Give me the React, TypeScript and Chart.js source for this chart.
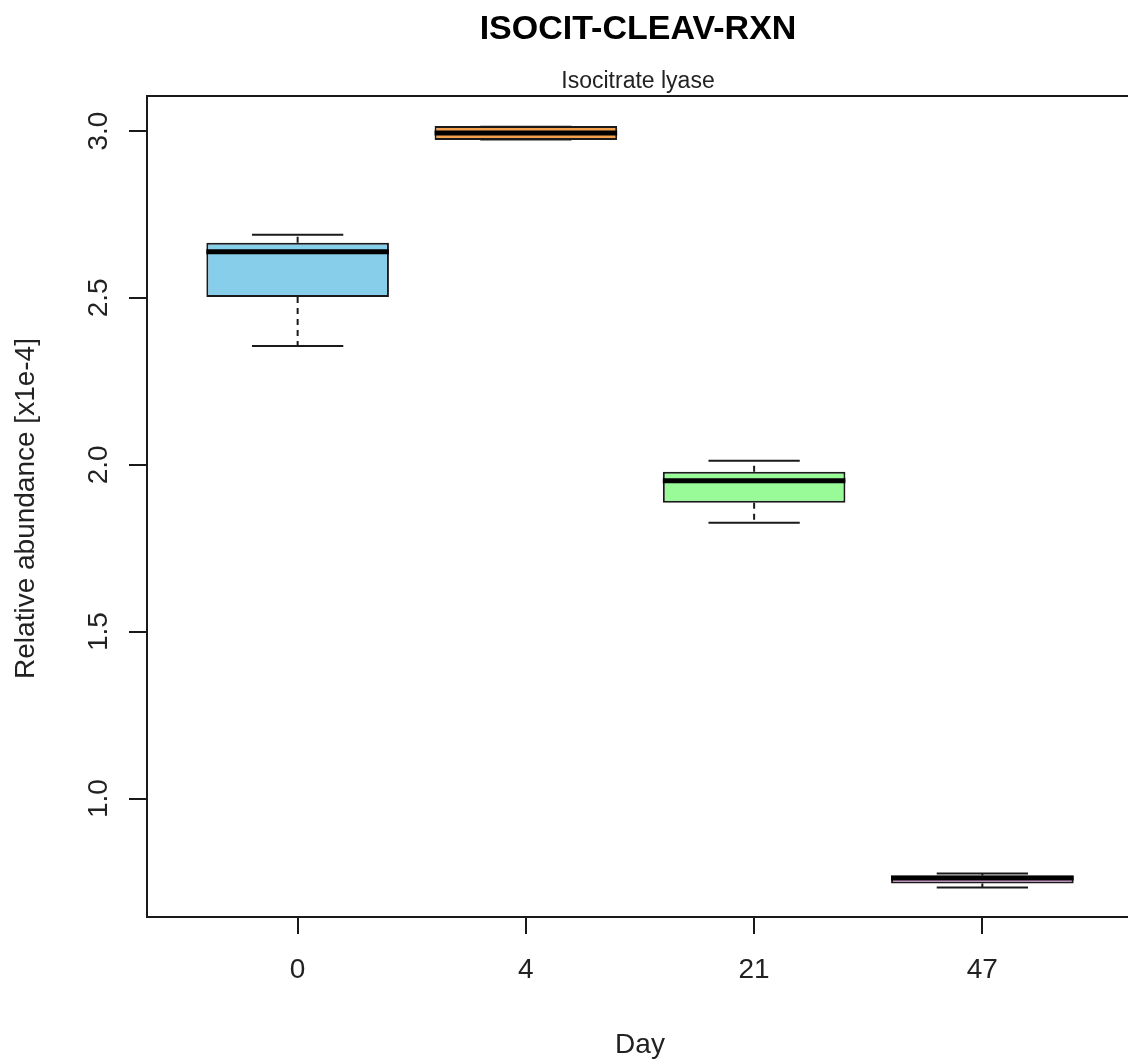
import React, { useEffect, useRef } from "react";
import { Chart, registerables } from "chart.js";

Chart.register(...registerables);

const categories = ["0", "4", "21", "47"];
const whiskerLow = [2.356, 2.975, 1.826, 0.7335];
const q1 = [2.503, 2.973, 1.886, 0.7455];
const median = [2.638, 2.994, 1.952, 0.762];
const q3 = [2.665, 3.015, 1.979, 0.7695];
const whiskerHigh = [2.689, 3.013, 2.012, 0.7754];
const boxColors = ["#87CEEB", "#F4A04C", "#98FB98", "#DDA0DD"];
const yTicks = [1.0, 1.5, 2.0, 2.5, 3.0];
const yTickLabels = ["1.0", "1.5", "2.0", "2.5", "3.0"];

const titleText = "ISOCIT-CLEAV-RXN";
const subtitleText = "Isocitrate lyase";
const xTitle = "Day";
const yTitle = "Relative abundance [x1e-4]";

const FONT = '"Liberation Sans", Arial, sans-serif';
const INK = "#1a1a1a";

const boxPlugin = {
  id: "boxExtras",
  afterDatasetsDraw(chart: any) {
    const ctx = chart.ctx;
    const xs = chart.scales.x;
    const ys = chart.scales.y;
    const meta = chart.getDatasetMeta(0);
    ctx.save();
    categories.forEach((_, i) => {
      const bar = meta.data[i];
      const cx = xs.getPixelForValue(i + 1);
      const halfW = bar.width / 2;
      const yLo = ys.getPixelForValue(whiskerLow[i]);
      const yHi = ys.getPixelForValue(whiskerHigh[i]);
      const yQ1 = ys.getPixelForValue(q1[i]);
      const yQ3 = ys.getPixelForValue(q3[i]);
      const yMed = ys.getPixelForValue(median[i]);
      ctx.strokeStyle = INK;
      ctx.lineWidth = 2;
      // dashed whiskers
      ctx.setLineDash([6, 5]);
      ctx.beginPath();
      if (yLo - yQ1 > 1) {
        ctx.moveTo(cx, yQ1);
        ctx.lineTo(cx, yLo);
      }
      if (yQ3 - yHi > 1) {
        ctx.moveTo(cx, yQ3);
        ctx.lineTo(cx, yHi);
      }
      ctx.stroke();
      ctx.setLineDash([]);
      // staples
      ctx.beginPath();
      ctx.moveTo(cx - halfW / 2, yLo);
      ctx.lineTo(cx + halfW / 2, yLo);
      ctx.moveTo(cx - halfW / 2, yHi);
      ctx.lineTo(cx + halfW / 2, yHi);
      ctx.stroke();
      // median
      ctx.strokeStyle = "#000";
      ctx.lineWidth = 5;
      ctx.beginPath();
      ctx.moveTo(cx - halfW, yMed);
      ctx.lineTo(cx + halfW, yMed);
      ctx.stroke();
    });
    ctx.restore();
  },
  afterDraw(chart: any) {
    const ctx = chart.ctx;
    const a = chart.chartArea;
    const xs = chart.scales.x;
    const ys = chart.scales.y;
    ctx.save();
    // frame
    ctx.strokeStyle = INK;
    ctx.lineWidth = 2;
    ctx.strokeRect(a.left, a.top, a.right - a.left, a.bottom - a.top);
    ctx.fillStyle = "#000";
    const cx = (a.left + a.right) / 2;
    // title
    ctx.textAlign = "center";
    ctx.textBaseline = "alphabetic";
    ctx.font = `bold 34px ${FONT}`;
    ctx.fillText(titleText, cx - 2, 39);
    ctx.fillStyle = "#222";
    ctx.font = `23px ${FONT}`;
    ctx.fillText(subtitleText, cx - 2, 88);
    // x tick labels
    ctx.font = `28px ${FONT}`;
    categories.forEach((c, i) => {
      ctx.fillText(c, xs.getPixelForValue(i + 1), 978);
    });
    // x title
    ctx.fillText(xTitle, cx, 1053);
    // y tick labels (rotated)
    yTicks.forEach((v, i) => {
      const y = ys.getPixelForValue(v);
      ctx.save();
      ctx.translate(107, y);
      ctx.rotate(-Math.PI / 2);
      ctx.fillText(yTickLabels[i], 0, 0);
      ctx.restore();
    });
    // y title
    ctx.save();
    ctx.translate(34, (a.top + a.bottom) / 2 + 2);
    ctx.rotate(-Math.PI / 2);
    ctx.fillText(yTitle, 0, 0);
    ctx.restore();
    ctx.restore();
  },
};

export default function App() {
  const ref = useRef<HTMLCanvasElement>(null);
  useEffect(() => {
    const canvas = ref.current;
    if (!canvas) return;
    const chart = new Chart(canvas, {
      type: "bar",
      data: {
        datasets: [
          {
            data: categories.map((_, i) => ({ x: i + 1, y: [q1[i], q3[i]] })) as any,
            backgroundColor: boxColors,
            borderColor: INK,
            borderWidth: 2,
            borderSkipped: false,
            categoryPercentage: 1,
            barPercentage: 0.8,
          } as any,
        ],
      },
      options: {
        animation: false,
        responsive: false,
        devicePixelRatio: 1,
        events: [],
        layout: { padding: { top: 96, right: 7, left: 0, bottom: 0 } },
        plugins: {
          legend: { display: false },
          tooltip: { enabled: false },
          title: { display: false },
        },
        scales: {
          x: {
            type: "linear",
            min: 0.34,
            max: 4.66,
            offset: false,
            afterBuildTicks: (axis: any) => {
              axis.ticks = categories.map((_, i) => ({ value: i + 1 }));
            },
            afterFit: (axis: any) => {
              axis.height = 147;
            },
            ticks: { display: false },
            grid: {
              display: true,
              offset: false,
              drawOnChartArea: false,
              drawTicks: true,
              tickLength: 17,
              color: INK,
              lineWidth: 2,
            },
            border: { display: false },
          },
          y: {
            type: "linear",
            min: 0.645,
            max: 3.105,
            afterBuildTicks: (axis: any) => {
              axis.ticks = yTicks.map((v) => ({ value: v }));
            },
            afterFit: (axis: any) => {
              axis.width = 147;
            },
            ticks: { display: false },
            grid: {
              display: true,
              offset: false,
              drawOnChartArea: false,
              drawTicks: true,
              tickLength: 18,
              color: INK,
              lineWidth: 2,
            },
            border: { display: false },
          },
        },
      } as any,
      plugins: [boxPlugin],
    });
    return () => chart.destroy();
  }, []);
  return (
    <div
      style={{
        position: "fixed",
        left: 0,
        top: 0,
        width: 1128,
        height: 1064,
        overflow: "hidden",
        background: "#fff",
      }}
    >
      <canvas ref={ref} width={1140} height={1064} style={{ display: "block" }} />
    </div>
  );
}
